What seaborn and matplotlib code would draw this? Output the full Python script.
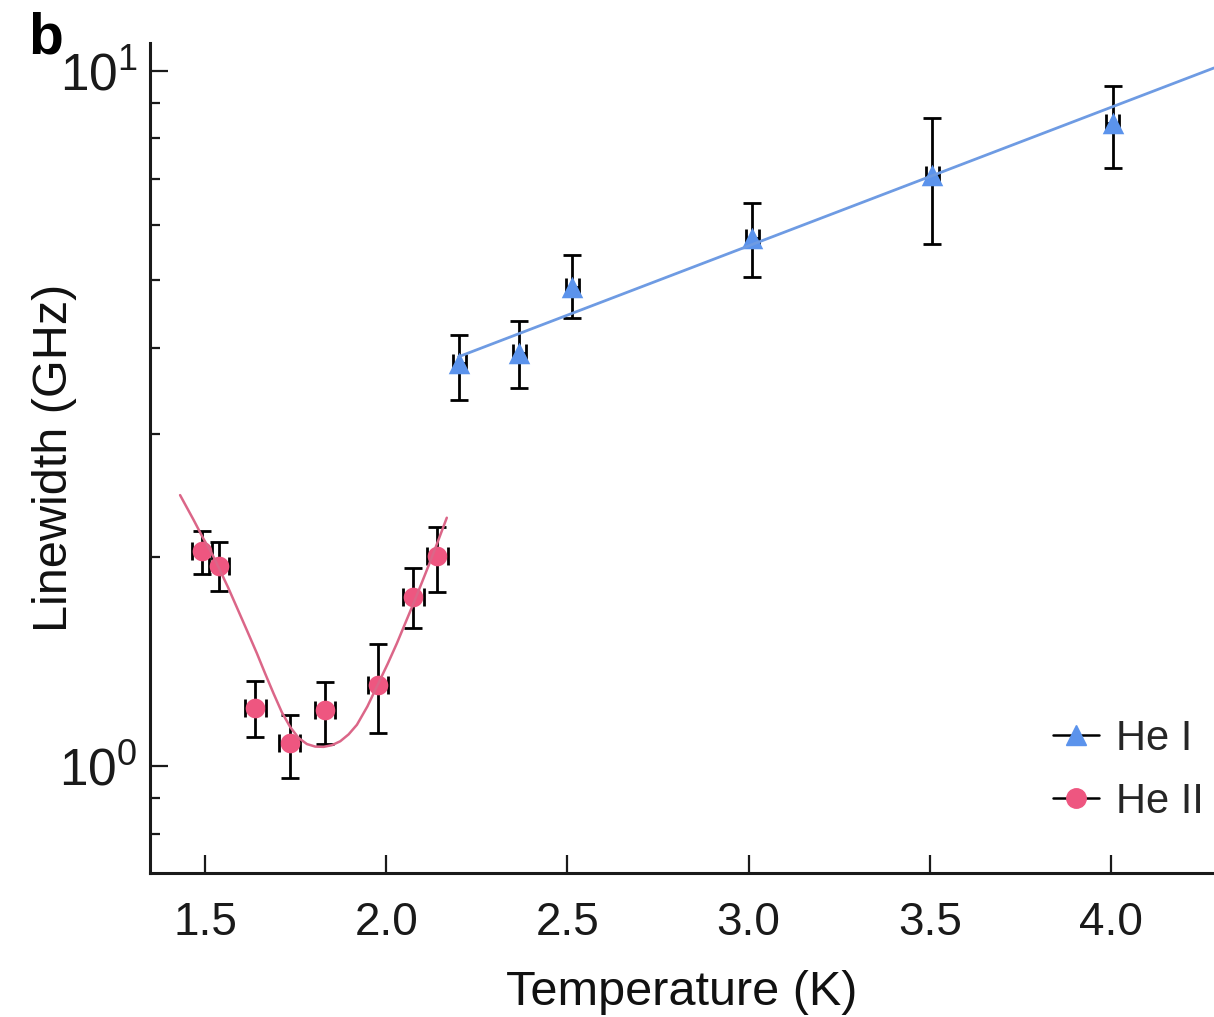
import numpy as np
import pandas as pd
import matplotlib
matplotlib.use("Agg")
import matplotlib.pyplot as plt
from matplotlib.lines import Line2D
from matplotlib.ticker import LogLocator, FixedLocator, NullFormatter
import seaborn as sns

# ---- data -------------------------------------------------------------
# He I (normal fluid) measurements
he1_T = [2.201, 2.367, 2.513, 3.010, 3.507, 4.005]
he1_L = [3.797, 3.925, 4.894, 5.745, 7.086, 8.409]
he1_hi = [4.170, 4.369, 5.436, 6.451, 8.551, 9.515]
he1_lo = [3.363, 3.495, 4.409, 5.049, 5.631, 7.244]

# He II (superfluid) measurements
he2_T = [1.491, 1.539, 1.639, 1.733, 1.830, 1.978, 2.075, 2.141]
he2_L = [2.039, 1.940, 1.213, 1.078, 1.204, 1.308, 1.752, 2.005]
he2_hi = [2.181, 2.098, 1.325, 1.184, 1.322, 1.498, 1.925, 2.210]
he2_lo = [1.889, 1.786, 1.102, 0.960, 1.076, 1.115, 1.578, 1.778]
he1_T_err = 0.018
he2_T_err = 0.028

# fitted curves
fit1_T = [2.199, 4.284]
fit1_L = [3.88, 10.10]
fit2_T = [1.431, 1.468, 1.495, 1.521, 1.541, 1.564, 1.587, 1.615, 1.643,
          1.666, 1.689, 1.712, 1.735, 1.758, 1.781, 1.804, 1.827, 1.850,
          1.873, 1.896, 1.919, 1.948, 1.978, 2.004, 2.029, 2.052, 2.075,
          2.098, 2.121, 2.144, 2.167]
fit2_L = [2.454, 2.262, 2.126, 2.012, 1.914, 1.805, 1.695, 1.570, 1.453,
          1.358, 1.272, 1.195, 1.138, 1.098, 1.076, 1.067, 1.066, 1.072,
          1.086, 1.111, 1.147, 1.219, 1.315, 1.404, 1.501, 1.604, 1.714,
          1.836, 1.968, 2.116, 2.277]

x_ticks = [1.5, 2.0, 2.5, 3.0, 3.5, 4.0]
x_ticklabels = ["1.5", "2.0", "2.5", "3.0", "3.5", "4.0"]
y_ticks = [1, 10]
y_ticklabels = [r"$10^{0}$", r"$10^{1}$"]

BLUE = "#5B93EC"
BLUE_LINE = "#6E9BE3"
PINK = "#EE5680"
PINK_LINE = "#DB6688"

# ---- style ------------------------------------------------------------
sns.set_theme(style="ticks")
plt.rcParams["font.family"] = ["Liberation Sans", "DejaVu Sans"]
plt.rcParams["mathtext.fontset"] = "custom"
plt.rcParams["mathtext.rm"] = "Liberation Sans"
plt.rcParams["mathtext.it"] = "Liberation Sans:italic"
plt.rcParams["mathtext.bf"] = "Liberation Sans:bold"
plt.rcParams["mathtext.default"] = "regular"

fig = plt.figure(figsize=(12.14, 10.17), dpi=100)
ax = fig.add_axes([150 / 1214, 144 / 1017, 1064 / 1214, 830 / 1017])

df1 = pd.DataFrame({"T": he1_T, "L": he1_L})
df2 = pd.DataFrame({"T": he2_T, "L": he2_L})

# error bars
ax.errorbar(he1_T, he1_L,
            yerr=[np.array(he1_L) - np.array(he1_lo), np.array(he1_hi) - np.array(he1_L)],
            xerr=he1_T_err, fmt="none", ecolor="black", elinewidth=2.0,
            capsize=6.5, capthick=2.0, zorder=2)
ax.errorbar(he2_T, he2_L,
            yerr=[np.array(he2_L) - np.array(he2_lo), np.array(he2_hi) - np.array(he2_L)],
            xerr=he2_T_err, fmt="none", ecolor="black", elinewidth=2.0,
            capsize=6.5, capthick=2.0, zorder=2)

# markers
sns.scatterplot(data=df1, x="T", y="L", marker="^", s=240, color=BLUE,
                edgecolor=BLUE, linewidth=0, ax=ax, zorder=3)
sns.scatterplot(data=df2, x="T", y="L", marker="o", s=200, color=PINK,
                edgecolor=PINK, linewidth=0, ax=ax, zorder=3)

# fits
sns.lineplot(x=fit1_T, y=fit1_L, color=BLUE_LINE, lw=2.0, ax=ax, zorder=4,
             sort=False, estimator=None)
sns.lineplot(x=fit2_T, y=fit2_L, color=PINK_LINE, lw=1.8, ax=ax, zorder=4,
             sort=False, estimator=None)

# ---- axes -------------------------------------------------------------
ax.set_yscale("log")
ax.set_xlim(1.348, 4.284)
ax.set_ylim(0.702, 10.97)

ax.xaxis.set_major_locator(FixedLocator(x_ticks))
ax.set_xticklabels(x_ticklabels)
ax.yaxis.set_major_locator(FixedLocator(y_ticks))
ax.set_yticklabels(y_ticklabels)
ax.yaxis.set_minor_locator(LogLocator(base=10, subs=np.arange(2, 10) * 1.0))
ax.yaxis.set_minor_formatter(NullFormatter())

for s in ("top", "right"):
    ax.spines[s].set_visible(False)
for s in ("left", "bottom"):
    ax.spines[s].set_linewidth(2.2)
    ax.spines[s].set_color("#1a1a1a")

ax.tick_params(axis="x", which="major", direction="in", length=13, width=1.6,
               labelsize=33, pad=20, colors="#1a1a1a")
ax.tick_params(axis="y", which="major", direction="in", length=13, width=1.6,
               labelsize=37, pad=9, colors="#1a1a1a")
ax.tick_params(axis="y", which="minor", direction="in", length=7.5, width=1.6,
               colors="#1a1a1a")

ax.set_xlabel("Temperature (K)", fontsize=35, labelpad=18, color="#111111")
ax.set_ylabel("Linewidth (GHz)", fontsize=35, color="#111111")
ax.yaxis.set_label_coords(-0.069, 0.5)

# legend
handles = [
    Line2D([], [], color="black", lw=1.8, marker="^", markersize=15,
           markerfacecolor=BLUE, markeredgecolor=BLUE),
    Line2D([], [], color="black", lw=1.8, marker="o", markersize=14,
           markerfacecolor=PINK, markeredgecolor=PINK),
]
ax.legend(handles, ["He I", "He II"], loc="upper left",
          bbox_to_anchor=(1053 / 1214, 1 - 719 / 1017),
          bbox_transform=fig.transFigure, frameon=False, fontsize=30,
          handlelength=1.1, handletextpad=0.4, labelspacing=0.55,
          borderpad=0, borderaxespad=0)

fig.text(28 / 1214, 1 - 11 / 1017, "b", fontsize=41, fontweight="bold",
         ha="left", va="top", color="black")

fig.savefig("out.png", dpi=100)
